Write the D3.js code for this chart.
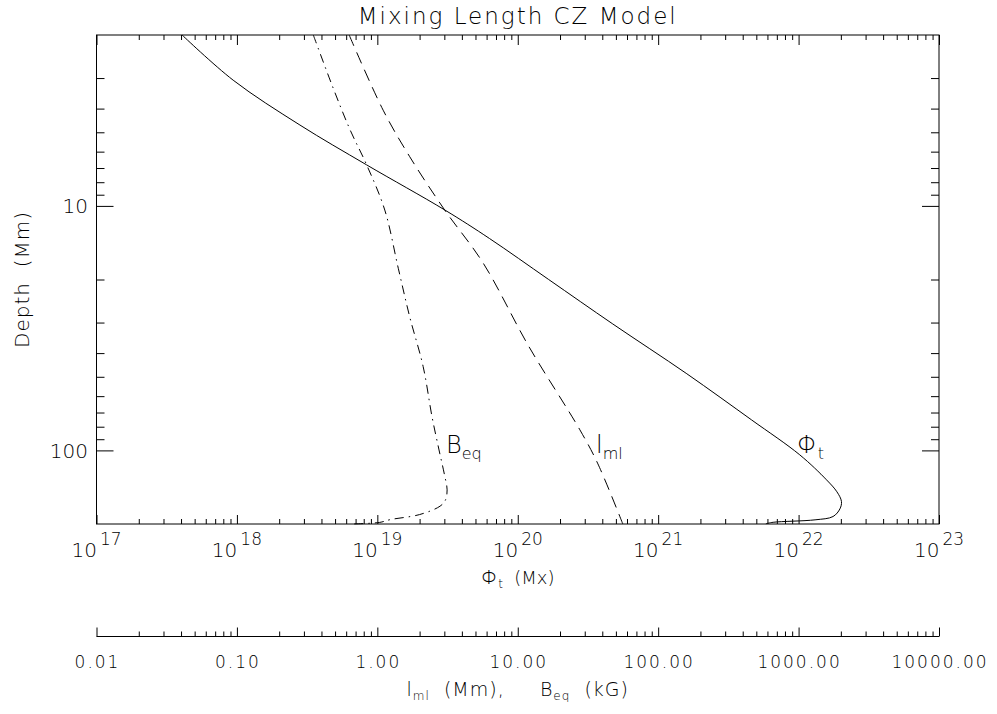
<!DOCTYPE html>
<html lang="en">
<head>
<meta charset="UTF-8">
<title>Mixing Length CZ Model</title>
<script src="https://d3js.org/d3.v7.min.js"></script>
<style>
  body { margin: 0; background: #fff; }
  text { font-family: "DejaVu Sans", sans-serif; font-weight: 200; fill: #000; }
</style>
</head>
<body>
<script>
// Phi_t (Mx) against depth (Mm), solid curve
const phiDepth = [2, 3.06, 4.67, 6.79, 10.4, 13.6, 20, 30.4, 48.6, 75, 104.3, 131.9, 147.7, 161.8, 173.4, 186.4, 192.3, 196.8, 199.5];
const phiFlux = [4.07e17, 9.4e17, 2.81e18, 8.37e18, 3.03e19, 6.3e19, 1.66e20, 4.75e20, 1.6e21, 4.62e21,
                 1.02e22, 1.58e22, 1.875e22, 2.02e22, 1.97e22, 1.76e22, 1.31e22, 6.59e21, 5.85e21];

// mixing length l_ml (Mm), dashed curve
const lmlDepth = [2, 4.06, 6.29, 10.4, 17.1, 37.6, 82.4, 112.7, 200];
const lmlValue = [0.63, 1.10, 1.70, 3.02, 5.66, 12.0, 27.7, 37, 56];

// equipartition field B_eq (kG), dash-dot curve
const beqDepth = [2, 3.25, 4.89, 6.8, 10.4, 18, 28.4, 45.4, 72.7, 99.6, 125, 145, 160, 169, 183, 192, 197, 200];
const beqValue = [0.35, 0.48, 0.64, 0.84, 1.13, 1.41, 1.70, 2.12, 2.45, 2.75, 3.0, 3.14, 3.05, 2.8, 2.0, 1.23, 1.04, 0.65];

// tick values
const fluxTicks = [1e17, 1e18, 1e19, 1e20, 1e21, 1e22, 1e23];
const lowerTicks = [0.01, 0.1, 1, 10, 100, 1000, 10000];
const depthTicks = [10, 100];

// dimensions
const width = 997, height = 714;
const xLeft = 96.5, xRight = 939, yTop = 35, yBottom = 524;
const lowerY = 636.5;

const svg = d3.select("body").append("svg")
    .attr("width", width)
    .attr("height", height);

const x = d3.scaleLog().domain([1e17, 1e23]).range([xLeft, xRight]);
const x2 = d3.scaleLog().domain([0.01, 1e4]).range([xLeft, xRight]);
const y = d3.scaleLog().domain([2, 200]).range([yTop, yBottom]);

// 2..9 times each major, inside the domain
function minors(majors, lo, hi) {
    const out = [];
    majors.forEach(m => { for (let k = 2; k < 10; k++) out.push(m * k); });
    return out.filter(v => v > lo && v < hi);
}

function ticks(axis, scale, vals, size, tx, ty) {
    svg.append("g")
        .attr("transform", `translate(${tx},${ty})`)
        .attr("color", "#000")
        .call(axis(scale).tickValues(vals).tickSize(-size).tickFormat(""))
        .call(g => g.select(".domain").remove());
}

// frame
svg.append("rect")
    .attr("x", xLeft).attr("y", yTop)
    .attr("width", xRight - xLeft).attr("height", yBottom - yTop)
    .attr("fill", "none").attr("stroke", "#000").attr("stroke-width", 1);

const fluxMinor = minors(fluxTicks, 1e17, 1e23);
const lowerMinor = minors(lowerTicks, 0.01, 1e4);
const depthMinor = minors([1, 10, 100], 2, 200);

ticks(d3.axisBottom, x, fluxTicks, 9, 0, yBottom);
ticks(d3.axisBottom, x, fluxMinor, 5, 0, yBottom);
ticks(d3.axisTop, x, fluxTicks, 10, 0, yTop);
ticks(d3.axisTop, x, fluxMinor, 5, 0, yTop);
ticks(d3.axisLeft, y, depthTicks, 17, xLeft, 0);
ticks(d3.axisLeft, y, depthMinor, 8, xLeft, 0);
ticks(d3.axisRight, y, depthTicks, 17, xRight, 0);
ticks(d3.axisRight, y, depthMinor, 8, xRight, 0);

// second x axis (l_ml, B_eq)
svg.append("line")
    .attr("x1", xLeft).attr("x2", xRight)
    .attr("y1", lowerY).attr("y2", lowerY)
    .attr("stroke", "#000");
ticks(d3.axisBottom, x2, lowerTicks, 9, 0, lowerY);
ticks(d3.axisBottom, x2, lowerMinor, 5, 0, lowerY);

// tick labels
svg.append("g").selectAll("text")
    .data(fluxTicks)
    .join("text")
    .attr("x", d => x(d))
    .attr("y", 557)
    .attr("text-anchor", "middle")
    .style("font-size", "20px")
    .each(function (d) {
        const t = d3.select(this);
        t.append("tspan").text("10");
        t.append("tspan").attr("dx", 3).attr("dy", -12).style("font-size", "17px")
            .text(Math.round(Math.log10(d)));
    });

svg.append("g").selectAll("text")
    .data(depthTicks)
    .join("text")
    .attr("x", 88)
    .attr("y", d => y(d) + 7.5)
    .attr("text-anchor", "end")
    .style("font-size", "20px")
    .text(d => d);

svg.append("g").selectAll("text")
    .data(lowerTicks)
    .join("text")
    .attr("x", d => x2(d) + 1)
    .attr("y", 668)
    .attr("text-anchor", "middle")
    .style("font-size", "17px")
    .style("letter-spacing", "2px")
    .text(d => d3.format(".2f")(d));

// titles
svg.append("text")
    .attr("x", (xLeft + xRight) / 2).attr("y", 24)
    .attr("text-anchor", "middle")
    .style("font-size", "23px").style("letter-spacing", "2px")
    .text("Mixing Length CZ Model");

svg.append("text")
    .attr("transform", `translate(29,${(yTop + yBottom) / 2}) rotate(-90)`)
    .attr("text-anchor", "middle")
    .style("font-size", "20px").style("letter-spacing", "1px")
    .style("white-space", "pre")
    .text("Depth  (Mm)");

const xt = svg.append("text")
    .attr("x", (xLeft + xRight) / 2).attr("y", 584)
    .attr("text-anchor", "middle")
    .style("font-size", "18px").style("white-space", "pre");
xt.append("tspan").style("font-size", "20px").text("\u03A6");
xt.append("tspan").attr("dy", 4).style("font-size", "12px").text("t");
xt.append("tspan").attr("dy", -4).text("  (Mx)");

const lt = svg.append("text")
    .attr("x", (xLeft + xRight) / 2).attr("y", 696)
    .attr("text-anchor", "middle")
    .style("font-size", "19px").style("letter-spacing", "1px").style("white-space", "pre");
lt.append("tspan").text("l");
lt.append("tspan").attr("dy", 4).style("font-size", "12px").text("ml");
lt.append("tspan").attr("dy", -4).text("  (Mm),     B");
lt.append("tspan").attr("dy", 4).style("font-size", "12px").text("eq");
lt.append("tspan").attr("dy", -4).text("  (kG)");

// curves
const phiData = d3.zip(phiFlux, phiDepth);
const lmlData = d3.zip(lmlValue, lmlDepth);
const beqData = d3.zip(beqValue, beqDepth);

const plot = svg.append("g");

plot.append("path")
    .datum(phiData)
    .attr("fill", "none").attr("stroke", "#000").attr("stroke-width", 1)
    .attr("d", d3.line().x(d => x(d[0])).y(d => y(d[1])).curve(d3.curveCatmullRom.alpha(0.5)));

plot.append("path")
    .datum(lmlData)
    .attr("fill", "none").attr("stroke", "#000").attr("stroke-width", 1)
    .attr("stroke-dasharray", "12,7")
    .attr("d", d3.line().x(d => x2(d[0])).y(d => y(d[1])).curve(d3.curveCatmullRom.alpha(0.5)));

plot.append("path")
    .datum(beqData)
    .attr("fill", "none").attr("stroke", "#000").attr("stroke-width", 1)
    .attr("stroke-dasharray", "9,5,1.5,5")
    .attr("d", d3.line().x(d => x2(d[0])).y(d => y(d[1])).curve(d3.curveCatmullRom.alpha(0.5)));

// curve labels
function curveLabel(px, main, sub) {
    const t = svg.append("text").attr("x", px).attr("y", 453).style("font-size", "24px");
    t.append("tspan").text(main);
    t.append("tspan").attr("dy", 6).style("font-size", "16px").text(sub);
}
curveLabel(446, "B", "eq");
curveLabel(596, "l", "ml");
curveLabel(797, "\u03A6", "t");
</script>
</body>
</html>
